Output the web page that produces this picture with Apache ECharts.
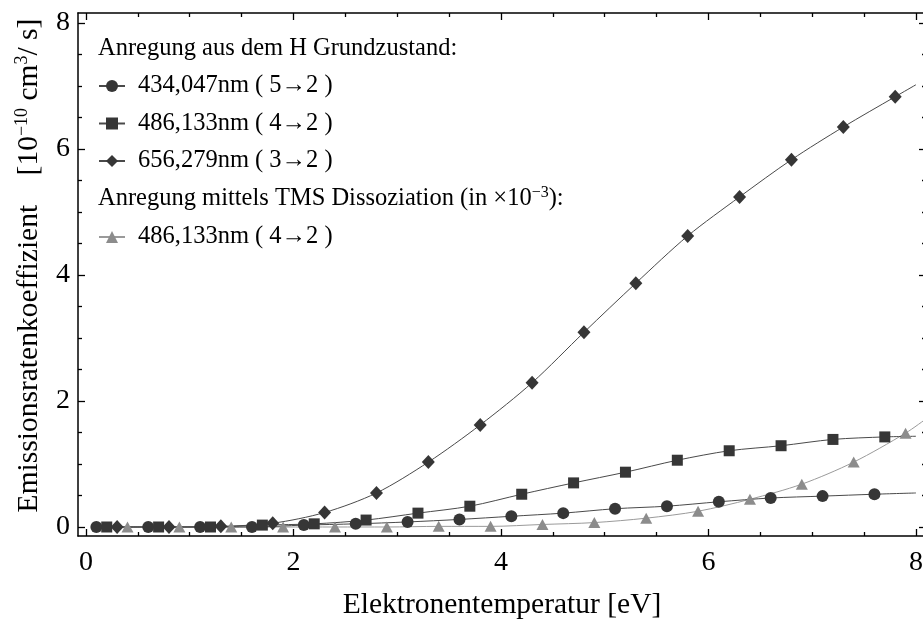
<!DOCTYPE html>
<html>
<head>
<meta charset="utf-8">
<script src="https://cdn.jsdelivr.net/npm/echarts@6/dist/echarts.min.js"></script>
<style>
  html, body { margin: 0; padding: 0; background: #fff; }
  #chart { width: 923px; height: 620px; }
</style>
</head>
<body>
<div id="chart"></div>
<script>
// Emission rate coefficients vs. electron temperature
const FONT = 'Liberation Serif';

// 434,047 nm (5->2), ground-state excitation
const circleX = [0.1, 0.6, 1.1, 1.6, 2.1, 2.6, 3.1, 3.6, 4.1, 4.6, 5.1, 5.6, 6.1, 6.6, 7.1, 7.6];
const circleY = [0, 0, 0, 0, 0.03, 0.05, 0.08, 0.12, 0.17, 0.22, 0.29, 0.33, 0.40, 0.46, 0.49, 0.52];
const circleEnd = [8.0, 0.54];

// 486,133 nm (4->2), ground-state excitation
const squareX = [0.2, 0.7, 1.2, 1.7, 2.2, 2.7, 3.2, 3.7, 4.2, 4.7, 5.2, 5.7, 6.2, 6.7, 7.2, 7.7];
const squareY = [0, 0, 0, 0.03, 0.05, 0.11, 0.22, 0.33, 0.52, 0.70, 0.87, 1.06, 1.21, 1.29, 1.39, 1.43];
const squareEnd = [8.0, 1.44];

// 656,279 nm (3->2), ground-state excitation
const diamondX = [0.3, 0.8, 1.3, 1.8, 2.3, 2.8, 3.3, 3.8, 4.3, 4.8, 5.3, 5.8, 6.3, 6.8, 7.3, 7.8];
const diamondY = [0, 0, 0.01, 0.06, 0.23, 0.54, 1.03, 1.62, 2.29, 3.09, 3.87, 4.62, 5.24, 5.83, 6.35, 6.83];
const diamondEnd = [8.0, 7.02];

// 486,133 nm (4->2), TMS dissociation (x 10^-3)
const triangleX = [0.4, 0.9, 1.4, 1.9, 2.4, 2.9, 3.4, 3.9, 4.4, 4.9, 5.4, 5.9, 6.4, 6.9, 7.4, 7.9];
const triangleY = [0, 0, 0, 0, 0, 0, 0.01, 0.01, 0.04, 0.07, 0.14, 0.25, 0.44, 0.68, 1.03, 1.49];
const triangleEnd = [8.1, 1.72];

const xMajor = [0, 2, 4, 6, 8];
const xMinor = [0.5, 1, 1.5, 2.5, 3, 3.5, 4.5, 5, 5.5, 6.5, 7, 7.5];
const yMajor = [0, 2, 4, 6, 8];
const yMinor = [0.5, 1, 1.5, 2.5, 3, 3.5, 4.5, 5, 5.5, 6.5, 7, 7.5];

const seriesNames = [
  '434,047nm ( 5\u21922 )',
  '486,133nm ( 4\u21922 )',
  '656,279nm ( 3\u21922 )',
  '486,133nm ( 4\u21922 ) '
];

const X_MIN = -0.077, X_MAX = 8.097;
const Y_MIN = -0.143, Y_MAX = 8.159;

function points(xs, ys, end) {
  const pts = xs.map((x, i) => [x, ys[i]]);
  pts.push({ value: end, symbol: 'none' });
  return pts;
}

function xAxisDef(position, ticks, len, showLabel, showLine) {
  return {
    type: 'value', position: position, min: X_MIN, max: X_MAX,
    axisLine: { show: showLine, onZero: false, lineStyle: { color: '#000', width: 1.5 } },
    axisTick: { show: true, inside: true, length: len, customValues: ticks, lineStyle: { color: '#000', width: 1.3 } },
    axisLabel: { show: showLabel, customValues: ticks, margin: 13, fontFamily: FONT, fontSize: 28, color: '#000' },
    splitLine: { show: false }
  };
}
function yAxisDef(position, ticks, len, showLabel, showLine) {
  return {
    type: 'value', position: position, min: Y_MIN, max: Y_MAX,
    axisLine: { show: showLine, onZero: false, lineStyle: { color: '#000', width: 1.5 } },
    axisTick: { show: true, inside: true, length: len, customValues: ticks, lineStyle: { color: '#000', width: 1.3 } },
    axisLabel: { show: showLabel, customValues: ticks, margin: 8, fontFamily: FONT, fontSize: 28, color: '#000' },
    splitLine: { show: false }
  };
}

const xAxes = [
  xAxisDef('bottom', xMajor, 7, true, true),
  xAxisDef('bottom', xMinor, 4, false, false),
  xAxisDef('top', xMajor, 7, false, true),
  xAxisDef('top', xMinor, 4, false, false)
];
xAxes[0].name = 'Elektronentemperatur [eV]';
xAxes[0].nameLocation = 'middle';
xAxes[0].nameGap = 54;
xAxes[0].nameTextStyle = { fontFamily: FONT, fontSize: 29.5, color: '#000' };

const yAxes = [
  yAxisDef('left', yMajor, 7, true, true),
  yAxisDef('left', yMinor, 4, false, false),
  yAxisDef('right', yMajor, 7, false, true),
  yAxisDef('right', yMinor, 4, false, false)
];
yAxes[0].name = 'Emissionsratenkoeffizient    [10{sup|\u221210} cm{sup|3}/ s]';
yAxes[0].nameLocation = 'middle';
yAxes[0].nameGap = 32;
yAxes[0].nameTextStyle = {
  fontFamily: FONT, fontSize: 29.5, color: '#000', lineHeight: 32,
  padding: [0, 0, 0, 18],
  rich: { sup: { fontFamily: FONT, fontSize: 18, verticalAlign: 'top', lineHeight: 32, color: '#000' } }
};

const dark = '#363636';
const lineDark = '#4a4a4a';
const gray = '#8c8c8c';
const lineGray = '#9a9a9a';

function lineSeries(name, data, symbol, size, fill, lineColor) {
  return {
    name: name, type: 'line', xAxisIndex: 0, yAxisIndex: 0,
    data: data, smooth: 0.3, clip: true,
    symbol: symbol, symbolSize: size, showAllSymbol: true,
    lineStyle: { color: lineColor, width: 1 },
    itemStyle: { color: fill, borderWidth: 0 },
    emphasis: { disabled: true },
    animation: false
  };
}

const legendText = { fontFamily: FONT, fontSize: 24.5, color: '#000', lineHeight: 28, padding: [0, 0, 0, 8] };

const chart = echarts.init(document.getElementById('chart'), null, { renderer: 'canvas' });
chart.setOption({
  backgroundColor: '#fff',
  animation: false,
  grid: { left: 78, top: 13, width: 848, bottom: 84, containLabel: false, outerBoundsMode: 'none' },
  xAxis: xAxes,
  yAxis: yAxes,
  legend: [
    {
      data: seriesNames.slice(0, 3), orient: 'vertical', left: 98, top: 72, padding: 0,
      itemWidth: 26, itemHeight: 15, itemGap: 9.5,
      textStyle: legendText, selectedMode: false
    },
    {
      data: [seriesNames[3]], orient: 'vertical', left: 98, top: 223, padding: 0,
      itemWidth: 26, itemHeight: 15,
      textStyle: legendText, selectedMode: false
    }
  ],
  graphic: [
    {
      type: 'text', left: 98, top: 35, silent: true,
      style: { text: 'Anregung aus dem H Grundzustand:', fontFamily: FONT, fontSize: 24.5, lineHeight: 28, fill: '#000' }
    },
    {
      type: 'text', left: 98, top: 185, silent: true,
      style: {
        text: 'Anregung mittels TMS Dissoziation (in \u00d710{sup|\u22123}):',
        fontFamily: FONT, fontSize: 24.5, fill: '#000', lineHeight: 28,
        rich: { sup: { fontFamily: FONT, fontSize: 16, verticalAlign: 'top', lineHeight: 28, fill: '#000' } }
      }
    }
  ],
  series: [
    lineSeries(seriesNames[3], points(triangleX, triangleY, triangleEnd), 'triangle', [12, 11], gray, lineGray),
    lineSeries(seriesNames[0], points(circleX, circleY, circleEnd), 'circle', 12, dark, lineDark),
    lineSeries(seriesNames[1], points(squareX, squareY, squareEnd), 'rect', 11, dark, lineDark),
    lineSeries(seriesNames[2], points(diamondX, diamondY, diamondEnd), 'diamond', [13, 14], dark, lineDark)
  ]
});
</script>
</body>
</html>
